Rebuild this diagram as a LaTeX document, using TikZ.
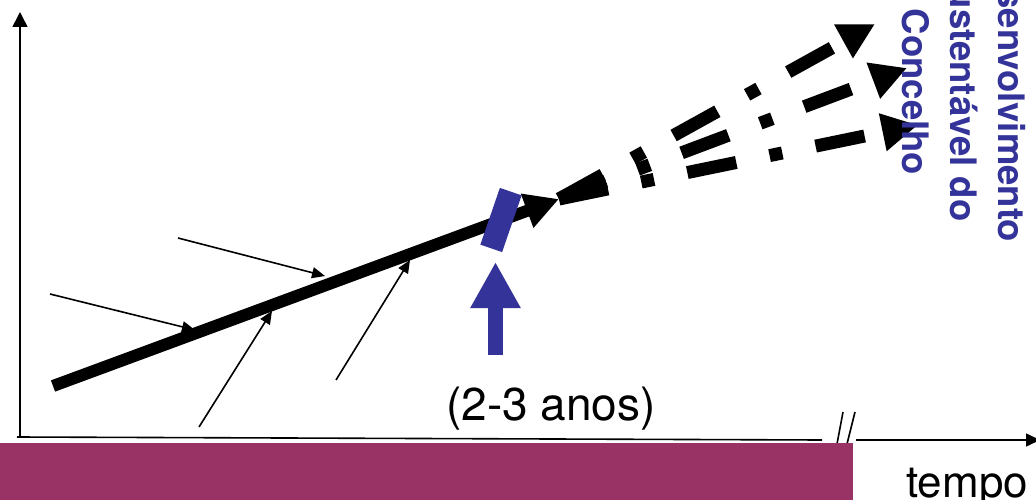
\documentclass[tikz,border=0pt]{standalone}
\usepackage{fontspec}
\setmainfont{TeX Gyre Heros}
\usetikzlibrary{arrows.meta}
\definecolor{darkblue}{RGB}{51,51,153}
\definecolor{plum}{RGB}{153,51,102}

\begin{document}
\begin{tikzpicture}[x=1pt, y=-1pt,
    axis/.style={line width=1.6pt},
    thinarrow/.style={line width=1.6pt, -{Triangle[length=13pt,width=11pt]}},
    future/.style={line width=13pt, dash pattern=on 50pt off 34pt on 13pt off 34pt, -{Triangle[length=36pt,width=36pt]}}]
    \useasboundingbox (0,0) rectangle (1036,500);
    \clip (0,0) rectangle (1036,500);

    % Axes
    \coordinate (O) at (20,438);
    \coordinate (Ytop) at (20,12);
    \coordinate (Xstart) at (17,437);
    \coordinate (Xbreak) at (822,440);
    \coordinate (Xresume) at (856,440);
    \coordinate (Xend) at (1040,440);
    \draw[axis, -{Triangle[length=15pt,width=15pt]}] (O) -- (Ytop);
    \draw[axis] (Xstart) -- (Xbreak);
    \draw[axis, -{Triangle[length=14pt,width=13pt]}] (Xresume) -- (Xend);
    \draw[axis] (837,444) -- (843,412) (847,444) -- (855,412);

    % Band
    \fill[plum] (0,443) rectangle (853,500);

    % Influences
    \coordinate (a1) at (50,294);
    \coordinate (b1) at (195,330);
    \coordinate (a2) at (178,238);
    \coordinate (b2) at (325,276);
    \coordinate (a3) at (199,427);
    \coordinate (b3) at (272,311);
    \coordinate (a4) at (336,380);
    \coordinate (b4) at (410,260);
    \draw[thinarrow] (a1) -- (b1);
    \draw[thinarrow] (a2) -- (b2);
    \draw[thinarrow] (a3) -- (b3);
    \draw[thinarrow] (a4) -- (b4);

    % Path so far
    \coordinate (start) at (53,386);
    \coordinate (now) at (559,199);
    \draw[line width=12pt, -{Triangle[length=34pt,width=34pt]}] (start) -- (now);

    % Milestone
    \node[fill=darkblue, inner sep=0pt, minimum width=23pt, minimum height=60pt, rotate=-19] (marco) at (501,220) {};
    \coordinate (foot) at (495.5,355);
    \coordinate (point) at (495.5,262);
    \draw[darkblue, line width=15pt, -{Triangle[length=46pt,width=47pt]}] (foot) -- (point);

    % Futures
    \coordinate (f1) at (875,24);
    \coordinate (f2) at (907,68);
    \coordinate (f3) at (918,125);
    \draw[future] (now) -- (f1);
    \draw[future] (now) -- (f2);
    \draw[future] (now) -- (f3);

    % Labels
    \node[font=\fontsize{46}{55}\selectfont, anchor=base] (duracao) at (551,420) {(2-3 anos)};
    \node[font=\fontsize{44}{53}\selectfont, anchor=base] (tempo) at (967,497) {tempo};
    \node[darkblue, font=\bfseries\fontsize{36.5}{48}\selectfont, align=center, rotate=-90] (meta) at (964,92) {Desenvolvimento\\Sustentável do\\Concelho};
\end{tikzpicture}
\end{document}
